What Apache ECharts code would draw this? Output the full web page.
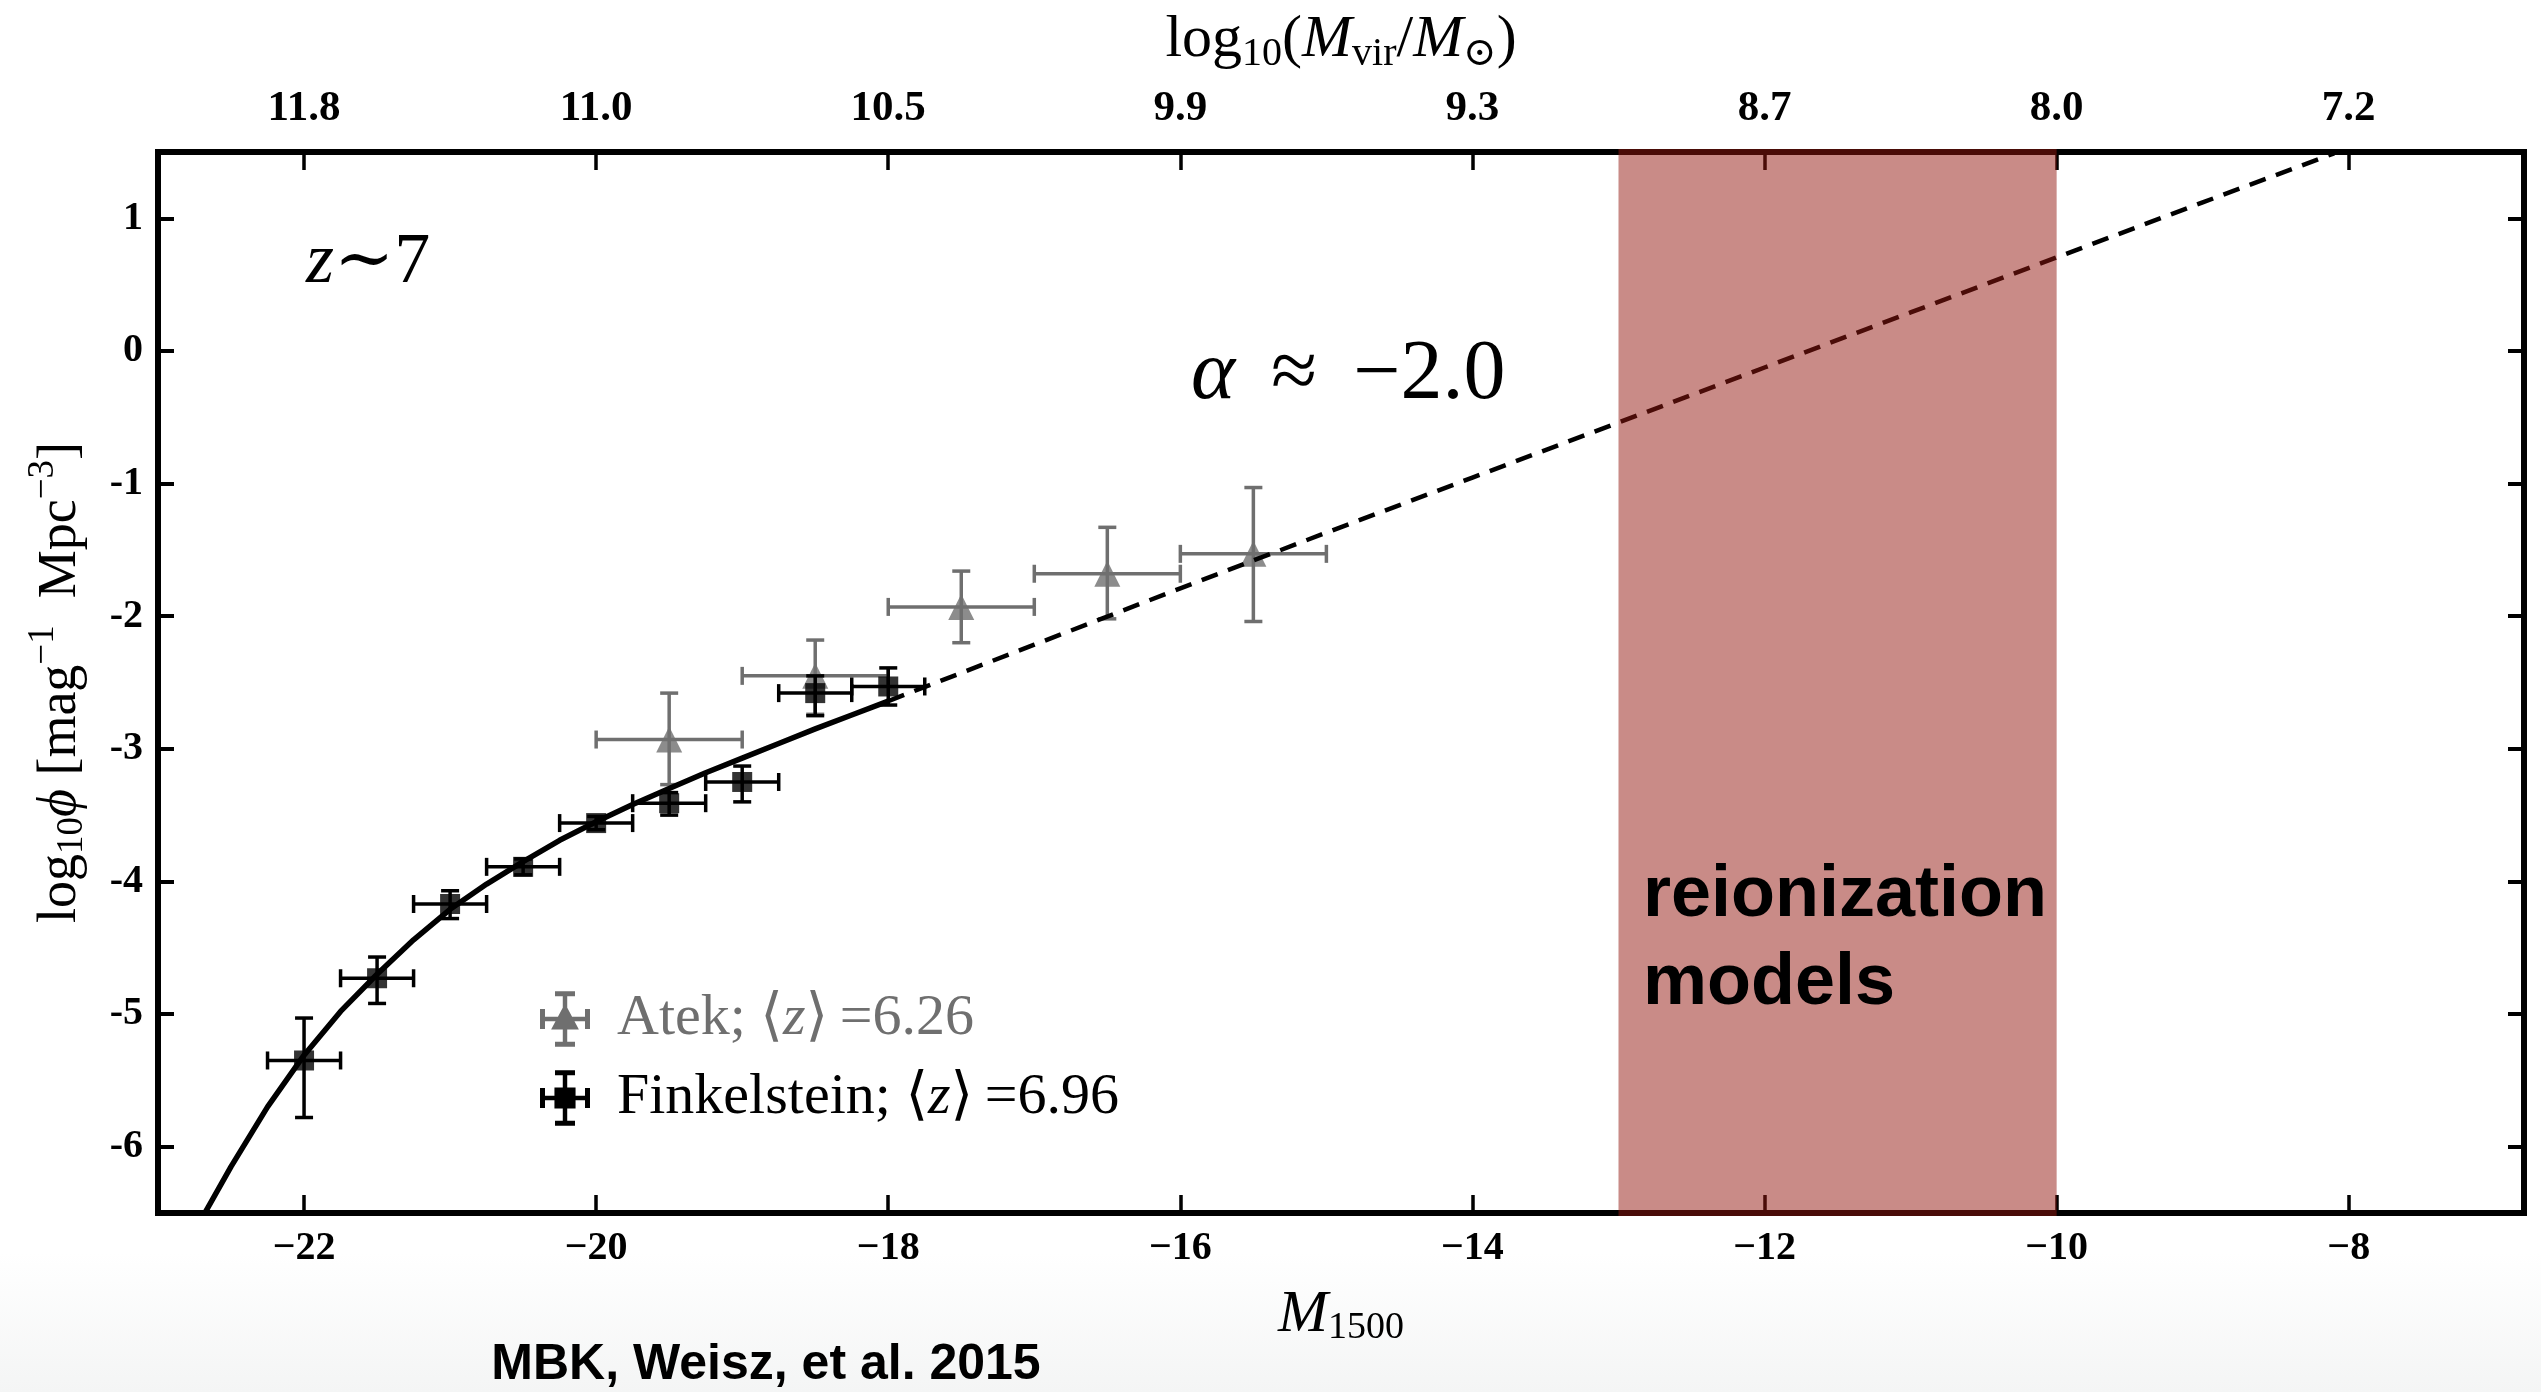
<!DOCTYPE html>
<html>
<head>
<meta charset="utf-8">
<script src="https://cdn.jsdelivr.net/npm/echarts@6/dist/echarts.min.js"></script>
<style>
  html, body { margin: 0; padding: 0; background: #ffffff; }
  #chart { width: 2541px; height: 1392px; }
</style>
</head>
<body>
<div id="chart"></div>
<script>
// ---- axis ranges and tick labels ----
const xMin = -23, xMax = -6.8;
const yMin = -6.5, yMax = 1.5;
const magTicks = [-22, -20, -18, -16, -14, -12, -10, -8];
const massLabels = ['11.8', '11.0', '10.5', '9.9', '9.3', '8.7', '8.0', '7.2'];
const phiTicks = [-6, -5, -4, -3, -2, -1, 0, 1];

// ---- Finkelstein binned luminosity function ----
const finkM = [-22.0, -21.5, -21.0, -20.5, -20.0, -19.5, -19.0, -18.5, -18.0];
const finkPhi = [-5.35, -4.73, -4.17, -3.89, -3.56, -3.41, -3.25, -2.58, -2.53];
const finkPhiLo = [-5.78, -4.92, -4.28, -3.95, -3.61, -3.50, -3.40, -2.75, -2.67];
const finkPhiHi = [-5.03, -4.57, -4.07, -3.83, -3.51, -3.33, -3.13, -2.45, -2.39];
const finkMErr = [0.25, 0.25, 0.25, 0.25, 0.25, 0.25, 0.25, 0.25, 0.25];

// ---- Atek (lensed fields) binned luminosity function ----
const atekM = [-19.5, -18.5, -17.5, -16.5, -15.5];
const atekPhi = [-2.93, -2.45, -1.93, -1.68, -1.53];
const atekPhiLo = [-3.27, -2.74, -2.20, -2.02, -2.04];
const atekPhiHi = [-2.58, -2.18, -1.66, -1.33, -1.03];
const atekMErr = [0.5, 0.5, 0.5, 0.5, 0.5];

// ---- Schechter fit: constrained part (solid) and extrapolation (dashed) ----
const fitSolidM = [-22.72, -22.5, -22.25, -22.0, -21.75, -21.5, -21.25, -21.0, -20.75, -20.5, -20.25, -20.0, -19.75, -19.5, -19.25, -19.0, -18.75, -18.5, -18.25, -18.0];
const fitSolidPhi = [-6.58, -6.15, -5.70, -5.31, -4.98, -4.70, -4.44, -4.21, -4.02, -3.85, -3.69, -3.55, -3.42, -3.30, -3.18, -3.07, -2.96, -2.85, -2.745, -2.64];
const fitDashM = [-18.0, -17.0, -16.0, -15.0, -14.0, -13.0, -12.0, -11.0, -10.0, -9.0, -8.1];
const fitDashPhi = [-2.64, -2.215, -1.79, -1.37, -0.955, -0.54, -0.125, 0.29, 0.705, 1.12, 1.49];

// ---- magnitude range favoured by reionization models ----
const reionBand = [-13, -10];

const SERIF = "'Liberation Serif', 'DejaVu Serif', serif";
const SANS = "'Liberation Sans', Arial, sans-serif";
const GRAY = '#6f6f6f';

function zip(a, b) { return a.map((v, i) => [v, b[i]]); }
function errRows(m, p, mErr, lo, hi) {
  return m.map((v, i) => [v, p[i], v - mErr[i], v + mErr[i], lo[i], hi[i]]);
}

// error bars with caps, drawn through the cartesian coordinate system
function errorBars(color, width, cap) {
  return function (params, api) {
    const x = api.value(0), y = api.value(1);
    const pL = api.coord([api.value(2), y]);
    const pR = api.coord([api.value(3), y]);
    const pB = api.coord([x, api.value(4)]);
    const pT = api.coord([x, api.value(5)]);
    const st = { stroke: color, lineWidth: width };
    const seg = (x1, y1, x2, y2) => ({ type: 'line', shape: { x1, y1, x2, y2 }, style: st });
    return {
      type: 'group',
      children: [
        seg(pL[0], pL[1], pR[0], pR[1]),
        seg(pB[0], pB[1], pT[0], pT[1]),
        seg(pL[0], pL[1] - cap, pL[0], pL[1] + cap),
        seg(pR[0], pR[1] - cap, pR[0], pR[1] + cap),
        seg(pB[0] - cap, pB[1], pB[0] + cap, pB[1]),
        seg(pT[0] - cap, pT[1], pT[0] + cap, pT[1])
      ]
    };
  };
}

// legend glyphs: marker with its error-bar cross
const barsPath = 'M0,46H90V54H0Z M41,0H49V100H41Z M0,32H9V68H0Z M81,32H90V68H81Z M27,0H63V9H27Z M27,91H63V100H27Z';
const atekIcon = 'path://' + barsPath + ' M45,22L70,69H20Z';
const finkIcon = 'path://' + barsPath + ' M26,31H64V69H26Z';

const subStyle = (size, pad) => ({ fontFamily: SERIF, fontSize: size, color: '#000', padding: [pad, 0, 0, 0] });
const supStyle = (size, pad) => ({ fontFamily: SERIF, fontSize: size, color: '#000', padding: [0, 0, pad, 0] });

const tickStyle = { color: '#000', width: 3.5 };

const chart = echarts.init(document.getElementById('chart'), null, { renderer: 'canvas' });

const option = {
  animation: false,
  backgroundColor: {
    type: 'linear', x: 0, y: 0, x2: 0, y2: 1,
    colorStops: [
      { offset: 0, color: '#ffffff' },
      { offset: 0.9, color: '#ffffff' },
      { offset: 1, color: '#f4f5f5' }
    ]
  },
  grid: {
    left: 158, top: 152, right: 17, bottom: 179,
    show: true, borderColor: '#000', borderWidth: 6, backgroundColor: 'transparent',
    outerBoundsMode: 'none'
  },
  xAxis: [
    {
      type: 'value', position: 'bottom', min: xMin, max: xMax,
      axisLine: { show: false, onZero: false },
      splitLine: { show: false },
      axisTick: { show: true, inside: true, length: 18, customValues: magTicks, lineStyle: tickStyle },
      axisLabel: {
        customValues: magTicks, margin: 16,
        formatter: v => (v < 0 ? '\u2212' : '') + Math.abs(v),
        fontFamily: SERIF, fontWeight: 'bold', fontSize: 40, color: '#000'
      },
      name: '{i|M}{s|1500}',
      nameLocation: 'middle', nameGap: 70,
      nameTextStyle: {
        rich: {
          i: { fontFamily: SERIF, fontStyle: 'italic', fontSize: 60, color: '#000' },
          s: subStyle(38, 26)
        }
      }
    },
    {
      type: 'value', position: 'top', min: xMin, max: xMax,
      axisLine: { show: false, onZero: false },
      splitLine: { show: false },
      axisTick: { show: true, inside: true, length: 18, customValues: magTicks, lineStyle: tickStyle },
      axisLabel: {
        customValues: magTicks, margin: 22,
        formatter: v => massLabels[magTicks.indexOf(v)] || '',
        fontFamily: SERIF, fontWeight: 'bold', fontSize: 43, color: '#000'
      },
      name: '{n|log}{s|10}{n|(}{i|M}{s|vir}{n|/}{i|M}{s|\u2299}{n|)}',
      nameLocation: 'middle', nameGap: 78,
      nameTextStyle: {
        rich: {
          n: { fontFamily: SERIF, fontSize: 60, color: '#000' },
          i: { fontFamily: SERIF, fontStyle: 'italic', fontSize: 60, color: '#000' },
          s: subStyle(40, 28)
        }
      }
    }
  ],
  yAxis: [
    {
      type: 'value', position: 'left', min: yMin, max: yMax,
      axisLine: { show: false, onZero: false },
      splitLine: { show: false },
      axisTick: { show: true, inside: true, length: 16, customValues: phiTicks, lineStyle: { color: '#000', width: 4 } },
      axisLabel: {
        customValues: phiTicks, margin: 15,
        formatter: v => String(v),
        fontFamily: SERIF, fontWeight: 'bold', fontSize: 40, color: '#000'
      },
      name: '{n|log}{s|10}{i|\u03d5}{n| [mag}{p|\u22121}{n|  Mpc}{p|\u22123}{n|]}',
      nameLocation: 'middle', nameGap: 62, nameRotate: 90,
      nameTextStyle: {
        rich: {
          n: { fontFamily: SERIF, fontSize: 54, color: '#000' },
          i: { fontFamily: SERIF, fontStyle: 'italic', fontSize: 54, color: '#000' },
          s: subStyle(37, 24),
          p: supStyle(37, 34)
        }
      }
    },
    {
      type: 'value', position: 'right', min: yMin, max: yMax,
      axisLine: { show: false, onZero: false },
      splitLine: { show: false },
      axisTick: { show: true, inside: true, length: 16, customValues: phiTicks, lineStyle: { color: '#000', width: 4 } },
      axisLabel: { show: false }
    }
  ],
  legend: {
    orient: 'vertical', left: 540, top: 990, padding: 0,
    itemWidth: 50, itemHeight: 56, itemGap: 21,
    selectedMode: false,
    data: [
      { name: 'Atek', icon: atekIcon },
      { name: 'Finkelstein', icon: finkIcon }
    ],
    formatter: name => name === 'Atek'
      ? '{ga|Atek; \u27e8}{gi|z}{ga|\u27e9\u2009=6.26}'
      : '{ba|Finkelstein; \u27e8}{bi|z}{ba|\u27e9\u2009=6.96}',
    textStyle: {
      fontFamily: SERIF, fontSize: 58, padding: [0, 0, 0, 22],
      rich: {
        ga: { fontFamily: SERIF, fontSize: 58, color: GRAY },
        gi: { fontFamily: SERIF, fontSize: 58, fontStyle: 'italic', color: GRAY },
        ba: { fontFamily: SERIF, fontSize: 58, color: '#000' },
        bi: { fontFamily: SERIF, fontSize: 58, fontStyle: 'italic', color: '#000' }
      }
    }
  },
  series: [
    {
      name: 'Atek', type: 'custom', z: 3, silent: true,
      itemStyle: { color: GRAY },
      data: errRows(atekM, atekPhi, atekMErr, atekPhiLo, atekPhiHi),
      encode: { x: [0, 2, 3], y: [1, 4, 5] },
      renderItem: errorBars(GRAY, 3.5, 9)
    },
    {
      name: 'Atek', type: 'scatter', z: 4, silent: true,
      symbol: 'triangle', symbolSize: 26,
      itemStyle: { color: GRAY },
      data: zip(atekM, atekPhi)
    },
    {
      name: 'fit', type: 'line', z: 5, silent: true,
      showSymbol: false, smooth: false,
      lineStyle: { color: '#000', width: 5.5, join: 'round' },
      data: zip(fitSolidM, fitSolidPhi)
    },
    {
      name: 'extrapolation', type: 'line', z: 5, silent: true,
      showSymbol: false,
      lineStyle: { color: '#000', width: 4.5, type: [17, 11] },
      data: zip(fitDashM, fitDashPhi)
    },
    {
      name: 'Finkelstein', type: 'custom', z: 6, silent: true,
      itemStyle: { color: '#000' },
      data: errRows(finkM, finkPhi, finkMErr, finkPhiLo, finkPhiHi),
      encode: { x: [0, 2, 3], y: [1, 4, 5] },
      renderItem: errorBars('#000', 3.5, 9)
    },
    {
      name: 'Finkelstein', type: 'scatter', z: 7, silent: true,
      symbol: 'rect', symbolSize: 20,
      itemStyle: { color: '#000' },
      data: zip(finkM, finkPhi)
    },
    {
      name: 'reionization', type: 'custom', z: 10, silent: true, clip: false,
      data: [reionBand],
      encode: { x: [0, 1] },
      renderItem: function (params, api) {
        const cs = params.coordSys;
        const x0 = api.coord([api.value(0), yMax])[0];
        const x1 = api.coord([api.value(1), yMax])[0];
        return {
          type: 'rect',
          shape: { x: x0, y: cs.y - 3, width: x1 - x0, height: cs.height + 6 },
          style: { fill: 'rgba(148,24,16,0.5)' }
        };
      }
    }
  ],
  graphic: [
    {
      type: 'text', x: 306, y: 263, z: 20, silent: true,
      style: {
        text: '{i|z}{n|\u223c7}',
        align: 'left', textAlign: 'left', verticalAlign: 'middle', textVerticalAlign: 'middle',
        fill: '#000',
        rich: {
          i: { fontFamily: SERIF, fontStyle: 'italic', fontSize: 72, fill: '#000' },
          n: { fontFamily: SERIF, fontSize: 72, fill: '#000' }
        }
      }
    },
    {
      type: 'text', x: 1191, y: 376, z: 20, silent: true,
      style: {
        text: '{a|\u03b1}{g| }{n|\u2248}{g| }{n|\u22122.0}',
        align: 'left', textAlign: 'left', verticalAlign: 'middle', textVerticalAlign: 'middle',
        fill: '#000',
        rich: {
          a: { fontFamily: SERIF, fontStyle: 'italic', fontSize: 84, fill: '#000' },
          n: { fontFamily: SERIF, fontSize: 84, fill: '#000' },
          g: { fontFamily: SERIF, fontSize: 84, width: 36, fill: '#000' }
        }
      }
    },
    {
      type: 'text', x: 1643, y: 852, z: 20, silent: true,
      style: {
        text: 'reionization\nmodels',
        align: 'left', textAlign: 'left', verticalAlign: 'top', textVerticalAlign: 'top',
        fontFamily: SANS, fontWeight: 'bold', fontSize: 72, lineHeight: 88,
        fill: '#000'
      }
    },
    {
      type: 'text', x: 766, y: 1365, z: 20, silent: true,
      style: {
        text: 'MBK, Weisz, et al. 2015',
        align: 'center', textAlign: 'center', verticalAlign: 'middle', textVerticalAlign: 'middle',
        fontFamily: SANS, fontWeight: 'bold', fontSize: 50,
        fill: '#000'
      }
    }
  ]
};

chart.setOption(option);
</script>
</body>
</html>
